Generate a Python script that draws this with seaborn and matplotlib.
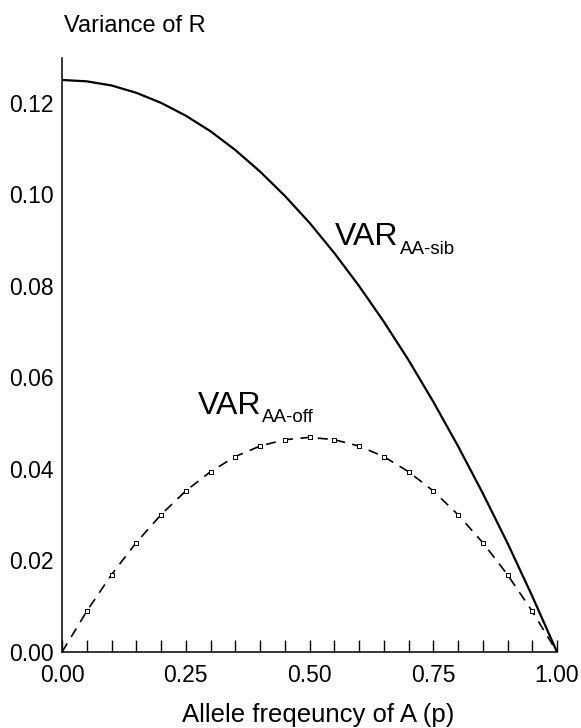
import matplotlib
matplotlib.use("Agg")
import matplotlib.pyplot as plt
import seaborn as sns
import numpy as np
import pandas as pd

sns.set_style("ticks")
plt.rcParams["font.family"] = ["Liberation Sans", "DejaVu Sans"]
plt.rcParams.update({"text.color": "black", "xtick.color": "black",
                     "ytick.color": "black", "xtick.labelcolor": "black",
                     "ytick.labelcolor": "black"})

# allele frequency of A, read at every 0.05
p = [0.00, 0.05, 0.10, 0.15, 0.20, 0.25, 0.30, 0.35, 0.40, 0.45, 0.50,
     0.55, 0.60, 0.65, 0.70, 0.75, 0.80, 0.85, 0.90, 0.95, 1.00]
var_sib = [0.1250, 0.1247, 0.1238, 0.1222, 0.1200, 0.1172, 0.1138, 0.1097,
           0.1050, 0.0997, 0.0938, 0.0872, 0.0800, 0.0722, 0.0638, 0.0547,
           0.0450, 0.0347, 0.0238, 0.0122, 0.0000]
var_off = [0.0000, 0.0089, 0.0169, 0.0239, 0.0300, 0.0352, 0.0394, 0.0427,
           0.0450, 0.0464, 0.0469, 0.0464, 0.0450, 0.0427, 0.0394, 0.0352,
           0.0300, 0.0239, 0.0169, 0.0089, 0.0000]
xtick_major = [0.00, 0.25, 0.50, 0.75, 1.00]
ytick_vals = [0.00, 0.02, 0.04, 0.06, 0.08, 0.10, 0.12]

df = pd.DataFrame({"p": p, "sib": var_sib, "off": var_off})

fig = plt.figure(figsize=(5.81, 7.28), dpi=100)
ax = fig.add_axes([62 / 581, 76 / 728, 495 / 581, 594 / 728])

sns.lineplot(data=df, x="p", y="sib", ax=ax, color="black", lw=1.6)
sns.lineplot(data=df, x="p", y="off", ax=ax, color="black", lw=1.2,
             dashes=False, linestyle=(0, (6, 4.5)))
inner = df.iloc[1:-1]
ax.scatter(inner["p"], inner["off"], marker="s", s=9, facecolor="white",
           edgecolor="black", linewidth=0.7, zorder=3)

ax.set_xlim(0, 1)
ax.set_ylim(0, 0.1298)
ax.set_xticks(xtick_major)
ax.set_xticklabels([f"{v:.2f}" for v in xtick_major])
ax.set_xticks(np.arange(0.05, 1.0, 0.05), minor=True)
ax.set_yticks(ytick_vals)
ax.set_yticklabels([f"{v:.2f}" for v in ytick_vals])
ax.tick_params(axis="x", which="both", direction="in", length=9, width=1,
               labelsize=16.5, pad=9, color="black")
ax.tick_params(axis="y", length=0, labelsize=16.5, pad=6)
for s in ["top", "right"]:
    ax.spines[s].set_visible(False)
for s in ["left", "bottom"]:
    ax.spines[s].set_linewidth(1.1)
    ax.spines[s].set_color("black")
ax.set_xlabel("")
ax.set_ylabel("")

fig.text(64 / 581, 1 - 32 / 728, "Variance of R", fontsize=17, ha="left", va="baseline")
fig.text(318 / 581, 1 - 722 / 728, "Allele freqeuncy of A (p)", fontsize=18.5,
         ha="center", va="baseline")

def var_label(x, y, sub):
    t = ax.text(x, y, "VAR", fontsize=23, ha="left", va="baseline")
    fig.canvas.draw()
    bb = t.get_window_extent()
    x1 = ax.transData.inverted().transform((bb.x1 + 1, 0))[0]
    ax.annotate(sub, xy=(x1, y), xytext=(0, -6), textcoords="offset points",
                fontsize=13.5, ha="left", va="baseline")

var_label(0.552, 0.0889, "AA-sib")
var_label(0.274, 0.0520, "AA-off")

fig.savefig("out.png", dpi=100)
